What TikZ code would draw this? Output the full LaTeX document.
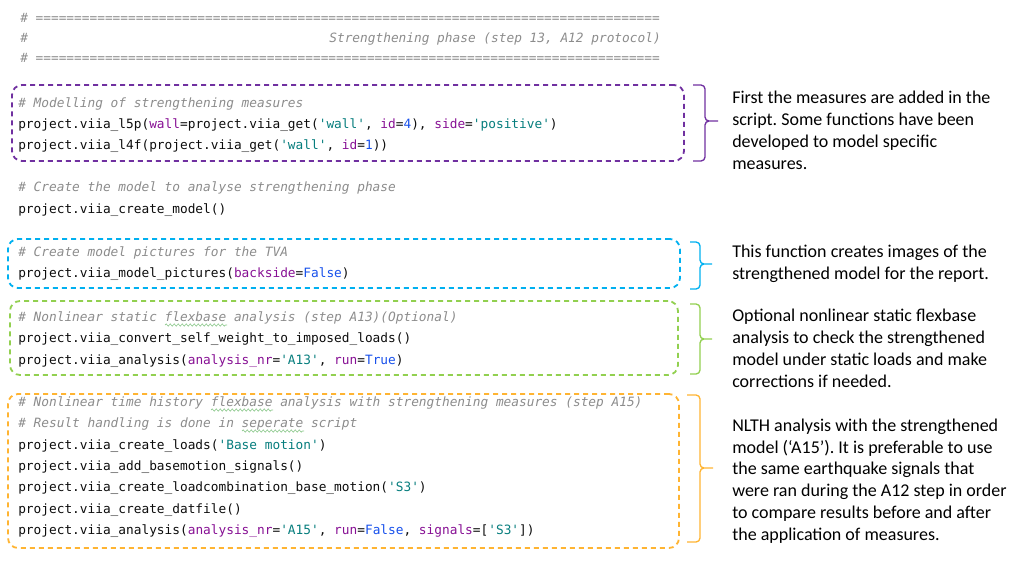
\documentclass[tikz,border=0pt]{standalone}
\usepackage{fontspec}
\setmainfont{Carlito}
\setmonofont{DejaVu Sans Mono}
\usepackage{xcolor}
\usepackage{tikz}
\usetikzlibrary{fit, decorations.pathmorphing}
\frenchspacing

\definecolor{codeblack}{RGB}{12,12,12}
\definecolor{cmtgray}{RGB}{140,140,140}
\definecolor{kwpurple}{RGB}{135,16,148}
\definecolor{strteal}{RGB}{6,125,125}
\definecolor{numblue}{RGB}{23,80,235}
\definecolor{spellgreen}{RGB}{140,200,140}
\definecolor{measpurple}{RGB}{112,48,160}
\definecolor{tvablue}{RGB}{0,176,240}
\definecolor{aonegreen}{RGB}{146,208,80}
\definecolor{atwoorange}{RGB}{255,180,50}

\newcommand{\kwarg}[1]{\textcolor{kwpurple}{#1}}
\newcommand{\pystr}[1]{\textcolor{strteal}{#1}}
\newcommand{\pynum}[1]{\textcolor{numblue}{#1}}
\newcommand{\tenEq}{==========}

\begin{document}
\begin{tikzpicture}[
        x=0.75pt, y=-0.75pt,
        code/.style={anchor=base west, inner sep=0pt, text=codeblack, font=\fontsize{9.6}{15.75}\selectfont\ttfamily},
        cmt/.style={code, text=cmtgray, font=\fontsize{9.6}{15.75}\selectfont\ttfamily\itshape},
        box/.style={draw=#1, line width=1.35pt, dash pattern=on 3.75pt off 3pt, rounded corners=7.5pt, inner sep=0pt},
        brace/.style={draw=#1, line width=1pt, rounded corners=3pt},
        note/.style={anchor=base west, inner sep=0pt, align=left, text=black, font=\fontsize{13.5}{16.3}\selectfont},
        spell/.style={draw=spellgreen, line width=0.5pt, decorate, decoration={snake, segment length=3pt, amplitude=0.8pt}}
    ]
        \useasboundingbox (0,0) rectangle (1014,562);

        % Header
        \node[cmt] (hdrtop) at (20,22) {\# \tenEq\tenEq\tenEq\tenEq\tenEq\tenEq\tenEq\tenEq=};
        \node[cmt] (hdrmid) at (20,42) {\#};
        \node[cmt, anchor=base east] (hdrtitle) at (661,42) {Strengthening phase (step 13, A12 protocol)};
        \node[cmt] (hdrbot) at (20,62) {\# \tenEq\tenEq\tenEq\tenEq\tenEq\tenEq\tenEq\tenEq=};

        % Code lines
        \node[cmt] (measc) at (18,107) {\# Modelling of strengthening measures};
        \node[code] (measa) at (18,128) {project.viia\_l5p(\kwarg{wall}=project.viia\_get(\pystr{'wall'}, \kwarg{id}=\pynum{4}), \kwarg{side}=\pystr{'positive'})};
        \node[code] (measb) at (18,149) {project.viia\_l4f(project.viia\_get(\pystr{'wall'}, \kwarg{id}=\pynum{1}))};

        \node[cmt] (modelc) at (18,191) {\# Create the model to analyse strengthening phase};
        \node[code] (modela) at (18,213) {project.viia\_create\_model()};

        \node[cmt] (tvac) at (18,256) {\# Create model pictures for the TVA};
        \node[code] (tvaa) at (18,277) {project.viia\_model\_pictures(\kwarg{backside}=\pynum{False})};

        \node[cmt] (aonec) at (18,321) {\# Nonlinear static flexbase analysis (step A13)(Optional)};
        \node[code] (aonea) at (18,342) {project.viia\_convert\_self\_weight\_to\_imposed\_loads()};
        \node[code] (aoneb) at (18,364) {project.viia\_analysis(\kwarg{analysis\_nr}=\pystr{'A13'}, \kwarg{run}=\pynum{True})};

        \node[cmt] (atwoc) at (18,406) {\# Nonlinear time history flexbase analysis with strengthening measures (step A15)};
        \node[cmt] (atwod) at (18,427) {\# Result handling is done in seperate script};
        \node[code] (atwoa) at (18,449) {project.viia\_create\_loads(\pystr{'Base motion'})};
        \node[code] (atwob) at (18,470) {project.viia\_add\_basemotion\_signals()};
        \node[code] (atwoe) at (18,491) {project.viia\_create\_loadcombination\_base\_motion(\pystr{'S3'})};
        \node[code] (atwof) at (18,513) {project.viia\_create\_datfile()};
        \node[code] (atwog) at (18,534) {project.viia\_analysis(\kwarg{analysis\_nr}=\pystr{'A15'}, \kwarg{run}=\pynum{False}, \kwarg{signals}=[\pystr{'S3'}])};

        % Spell check marks
        \draw[spell] (165,325) -- (227,325);
        \draw[spell] (211,410) -- (273,410);
        \draw[spell] (242,431) -- (304,431);

        % Boxes
        \node[box=measpurple, fit={(12,85) (684,161)}] (measbox) {};
        \node[box=tvablue, fit={(8,239) (680,288)}] (tvabox) {};
        \node[box=aonegreen, fit={(10,301) (678,375)}] (aonebox) {};
        \node[box=atwoorange, fit={(8,394) (679,548)}] (atwobox) {};

        % Braces
        \draw[brace=measpurple] (693,85) -- (705,85) -- (705,121) -- (718,121) (693,161) -- (705,161) -- (705,121) -- (718,121);
        \draw[brace=tvablue] (690,242) -- (700,242) -- (700,264) -- (712,264) (690,289) -- (700,289) -- (700,264) -- (712,264);
        \draw[brace=aonegreen] (690,304) -- (700,304) -- (700,339) -- (712,339) (690,374) -- (700,374) -- (700,339) -- (712,339);
        \draw[brace=atwoorange] (687,395) -- (700,395) -- (700,468) -- (713,468) (687,542) -- (700,542) -- (700,468) -- (713,468);

        % Notes (base = last line)
        \node[note] (measnote) at (732,169) {First the measures are added in the\\script. Some functions have been\\developed to model specific\\measures.};
        \node[note] (tvanote) at (732,279) {This function creates images of the\\strengthened model for the report.};
        \node[note] (aonenote) at (732,387) {Optional nonlinear static flexbase\\analysis to check the strengthened\\model under static loads and make\\corrections if needed.};
        \node[note] (atwonote) at (732,540) {NLTH analysis with the strengthened\\model (‘A15’). It is preferable to use\\the same earthquake signals that\\were ran during the A12 step in order\\to compare results before and after\\the application of measures.};

    \end{tikzpicture}
\end{document}
